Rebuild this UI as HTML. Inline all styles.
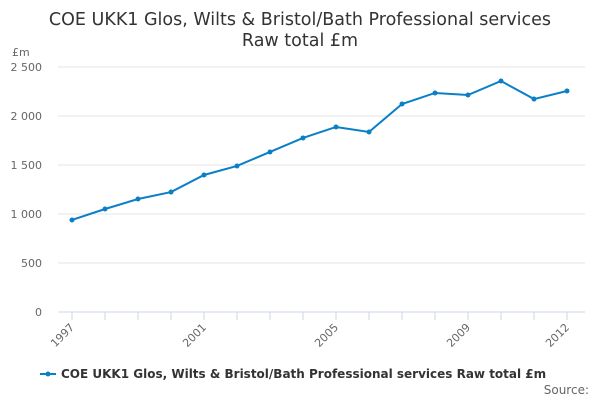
<!DOCTYPE html>
<html><head><meta charset="utf-8"><style>
body{margin:0;background:#fff;font-family:"DejaVu Sans","Liberation Sans",sans-serif;}
svg text{font-family:"DejaVu Sans","Liberation Sans",sans-serif;}
</style></head><body>
<svg id="chart" width="600" height="400" viewBox="0 0 600 400" xmlns="http://www.w3.org/2000/svg">
<text x="300" y="25" text-anchor="middle" font-size="17.5" fill="#333">COE UKK1 Glos, Wilts &amp; Bristol/Bath Professional services</text>
<text x="300" y="46" text-anchor="middle" font-size="17.5" fill="#333">Raw total £m</text>
<text x="12" y="56" font-size="11" fill="#666">£m</text>
<g id="grid"></g><g id="xaxis"></g><g id="series"></g>
<g>
<line x1="40" y1="374" x2="56" y2="374" stroke="#0a7fc6" stroke-width="2"/>
<circle cx="48" cy="374" r="2.5" fill="#0a7fc6"/>
<text x="61" y="378" font-size="12" font-weight="bold" fill="#333">COE UKK1 Glos, Wilts &amp; Bristol/Bath Professional services Raw total £m</text>
</g>
<text x="589" y="394" text-anchor="end" font-size="12" fill="#666">Source:</text>
</svg>
<script>
const years=[1997,1998,1999,2000,2001,2002,2003,2004,2005,2006,2007,2008,2009,2010,2011,2012];
const values=[939,1051,1153,1224,1398,1490,1633,1776,1888,1837,2122,2235,2214,2357,2173,2255];
const yTicks=[0,500,1000,1500,2000,2500];
const yTickLabels=["0","500","1 000","1 500","2 000","2 500"];
const xLabelYears=[1997,2001,2005,2009,2012];
const NS="http://www.w3.org/2000/svg";
const x0=72,x1=567,yb=312,yt=67;
function xs(y){return x0+(y-years[0])*(x1-x0)/(years[years.length-1]-years[0]);}
function ys(v){return yb-v*(yb-yt)/2500;}
function mk(t,a,p){const e=document.createElementNS(NS,t);for(const k in a)e.setAttribute(k,a[k]);p.appendChild(e);return e;}
const grid=document.getElementById('grid');
yTicks.forEach((v,i)=>{
 const l=mk('line',{x1:58,x2:585,y1:ys(v),y2:ys(v),stroke:v===0?'#ccd6eb':'#e6e6e6','stroke-width':1},grid);
 
 
 const t=mk('text',{x:42,y:ys(v)+4,'text-anchor':'end','font-size':11,fill:'#666'},grid);
 t.textContent=yTickLabels[i];
 
 
});
const xa=document.getElementById('xaxis');
years.forEach(y=>{
 const tk=mk('line',{x1:xs(y),x2:xs(y),y1:yb,y2:yb+8,stroke:'#ccd6eb'},xa);
 
 
});
xLabelYears.forEach(y=>{
 const t=mk('text',{x:xs(y)+3,y:yb+16,'text-anchor':'end','font-size':11,fill:'#666',transform:`rotate(-45 ${xs(y)+3} ${yb+16})`},xa);
 t.textContent=y;
 
 
});
const s=document.getElementById('series');
const p=mk('path',{d:years.map((y,i)=>(i?'L':'M')+xs(y)+' '+ys(values[i])).join(' '),fill:'none',stroke:'#0a7fc6','stroke-width':2},s);


years.forEach((y,i)=>{
 const c=mk('circle',{cx:xs(y),cy:ys(values[i]),r:2.5,fill:'#0a7fc6'},s);
 
 
});
</script>
</body></html>
